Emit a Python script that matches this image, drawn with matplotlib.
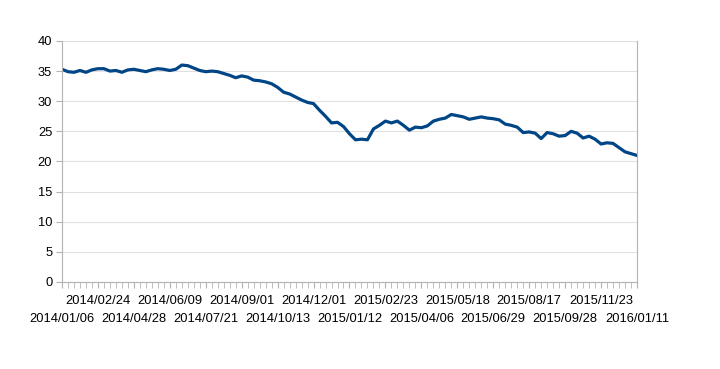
import matplotlib.pyplot as plt
from matplotlib.ticker import FixedLocator, MultipleLocator

# Weekly values (97 categories, every 6th one labelled)
values = [
    35.3, 34.9, 34.8, 35.1, 34.8, 35.2, 35.4, 35.4, 35.0, 35.1,
    34.8, 35.2, 35.3, 35.1, 34.9, 35.2, 35.4, 35.3, 35.1, 35.3,
    36.0, 35.9, 35.5, 35.1, 34.9, 35.0, 34.9, 34.6, 34.3, 33.9,
    34.2, 34.0, 33.5, 33.4, 33.2, 32.9, 32.3, 31.5, 31.2, 30.7,
    30.2, 29.8, 29.6, 28.5, 27.5, 26.4, 26.5, 25.8, 24.6, 23.6,
    23.7, 23.6, 25.4, 26.0, 26.7, 26.4, 26.7, 26.0, 25.2, 25.7,
    25.6, 25.9, 26.7, 27.0, 27.2, 27.8, 27.6, 27.4, 27.0, 27.2,
    27.4, 27.2, 27.1, 26.9, 26.2, 26.0, 25.7, 24.8, 24.9, 24.7,
    23.8, 24.8, 24.6, 24.2, 24.3, 25.0, 24.7, 23.9, 24.2, 23.7,
    22.9, 23.1, 23.0, 22.3, 21.6, 21.3, 21.0,
]
tick_labels = [
    "2014/01/06", "2014/02/24", "2014/04/28", "2014/06/09", "2014/07/21",
    "2014/09/01", "2014/10/13", "2014/12/01", "2015/01/12", "2015/02/23",
    "2015/04/06", "2015/05/18", "2015/06/29", "2015/08/17", "2015/09/28",
    "2015/11/23", "2016/01/11",
]
label_step = 6

plt.rcParams["font.family"] = ["Liberation Sans", "DejaVu Sans"]

fig = plt.figure(figsize=(7.2, 3.69), dpi=100)
ax = fig.add_axes([0.0861, 0.2358, 0.7986, 0.6532])

x = list(range(len(values)))
ax.plot(x, values, color="#004586", linewidth=2.3, solid_joinstyle="round")

ax.set_xlim(0, len(values) - 1)
ax.set_ylim(0, 40)
ax.yaxis.set_major_locator(MultipleLocator(5))
ax.grid(axis="y", color="#e0e0e0", linewidth=0.8)
ax.set_axisbelow(True)

major = list(range(0, len(values), label_step))
ax.xaxis.set_major_locator(FixedLocator(major))
ax.xaxis.set_minor_locator(FixedLocator(x))
ax.set_xticklabels(tick_labels)

ax.tick_params(axis="x", which="both", length=4, color="#b3b3b3",
               labelsize=9.3)
ax.tick_params(axis="y", length=4, color="#b3b3b3", labelsize=9.3, pad=3)

# alternate labels between two rows
for i, tick in enumerate(ax.xaxis.get_major_ticks()):
    tick.set_pad(5.5 if i % 2 else 18)

for side in ["left", "right", "bottom"]:
    ax.spines[side].set_color("#b3b3b3")
    ax.spines[side].set_linewidth(0.8)
ax.spines["top"].set_visible(False)

fig.savefig("out.png", dpi=100)
